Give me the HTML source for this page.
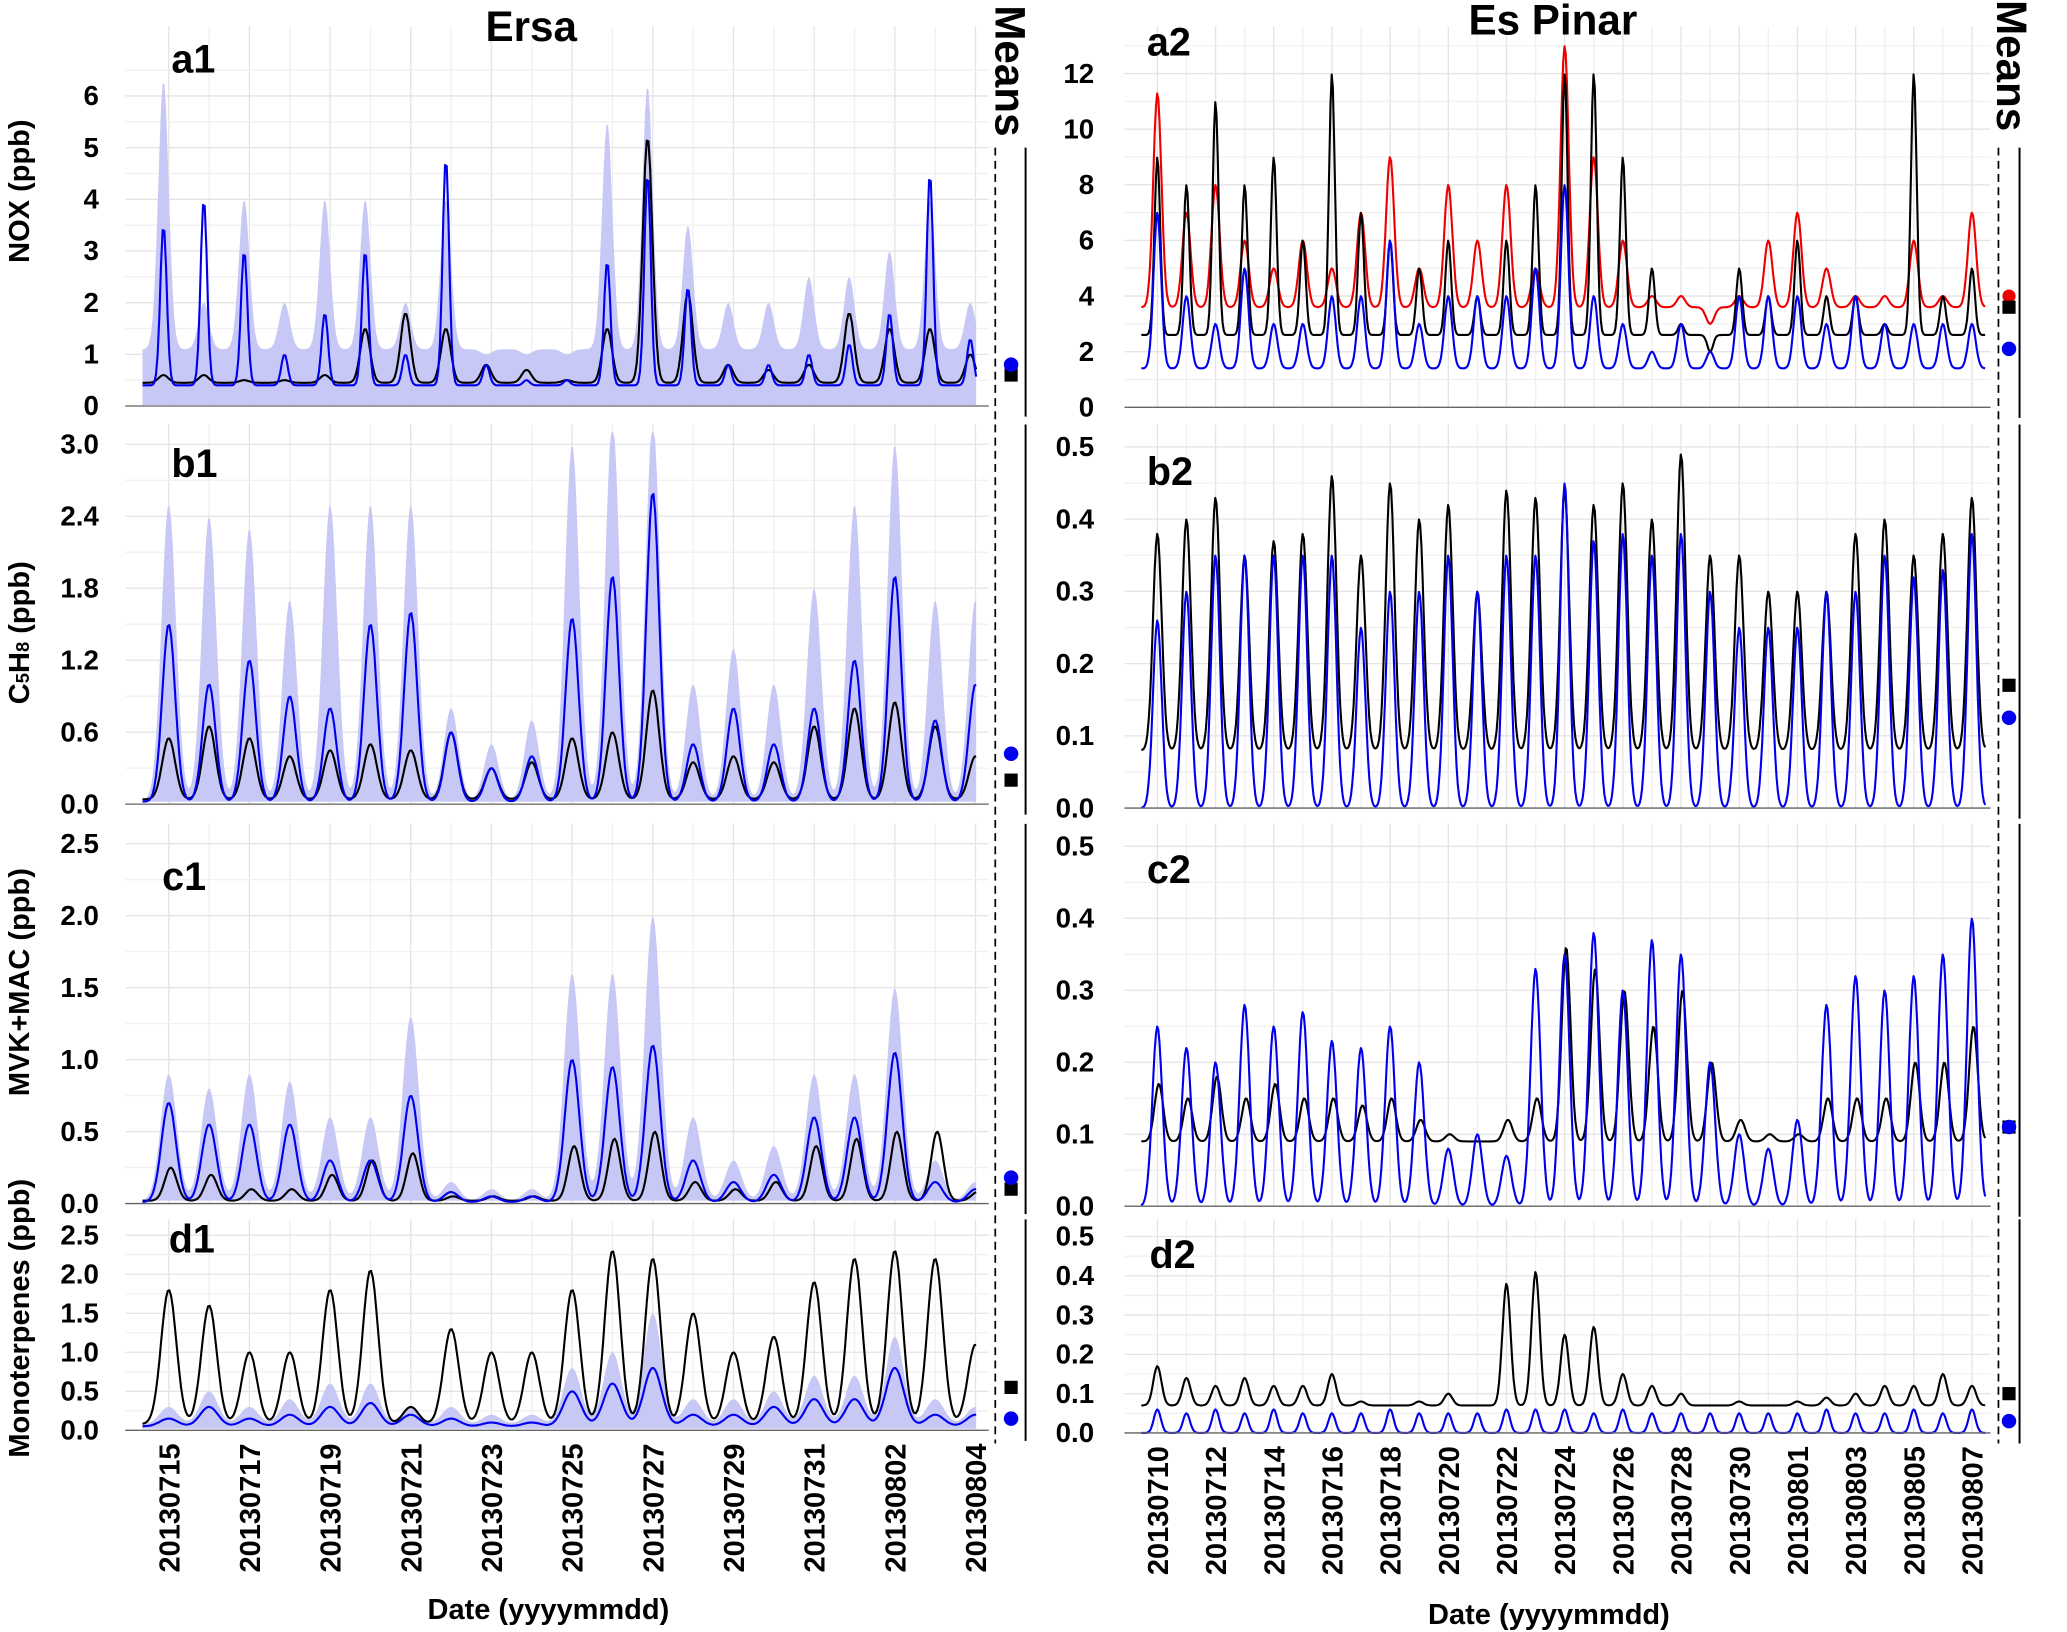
<!DOCTYPE html>
<html><head><meta charset="utf-8"><style>
html,body{margin:0;padding:0;background:#fff}
svg{display:block}
text{font-family:"Liberation Sans",sans-serif;font-weight:bold;fill:#000}
</style></head><body>
<svg id="chart" width="2067" height="1632" viewBox="0 0 1568 1238" preserveAspectRatio="none" xmlns="http://www.w3.org/2000/svg">
<g id="grid"></g>
<g id="marks"></g>
<g id="axes"></g>
<text x="403" y="31" font-size="32" text-anchor="middle">Ersa</text>
<text x="1178" y="26" font-size="32" text-anchor="middle">Es Pinar</text>
<text x="416" y="1228" font-size="22" text-anchor="middle">Date (yyyymmdd)</text>
<text x="1175" y="1232" font-size="22" text-anchor="middle">Date (yyyymmdd)</text>
<text transform="translate(755,4) rotate(90)" font-size="32">Means</text>
<text transform="translate(1515,0) rotate(90)" font-size="32">Means</text>
<text transform="translate(22,145) rotate(-90)" font-size="22" text-anchor="middle">NOX (ppb)</text>
<text transform="translate(22,480) rotate(-90)" font-size="22" text-anchor="middle">C<tspan font-size="14">5</tspan>H<tspan font-size="14">8</tspan> (ppb)</text>
<text transform="translate(22,745) rotate(-90)" font-size="22" text-anchor="middle">MVK+MAC (ppb)</text>
<text transform="translate(22,1000) rotate(-90)" font-size="22" text-anchor="middle">Monoterpenes (ppb)</text>
</svg>
<script>
// ---- data (daily peak values) ----
const leftTicks=["20130715","20130717","20130719","20130721","20130723","20130725","20130727","20130729","20130731","20130802","20130804"];
const rightTicks=["20130710","20130712","20130714","20130716","20130718","20130720","20130722","20130724","20130726","20130728","20130730","20130801","20130803","20130805","20130807"];
const a1Model=[3.5,4.0,3.0,1.0,1.8,3.0,1.0,4.8,0.8,0.5,0.5,2.8,4.5,2.3,0.8,0.8,1.0,1.2,1.8,4.5,1.3,0.6];
const a1Obs=[0.6,0.6,0.5,0.5,0.6,1.5,1.8,1.5,0.8,0.7,0.5,1.5,5.2,2.2,0.8,0.7,0.8,1.8,1.5,1.5,1.0,0.5];
const a1Band=[6.3,2.0,4.0,2.0,4.0,4.0,2.0,4.0,1.0,1.0,1.0,5.5,6.2,3.5,2.0,2.0,2.5,2.5,3.0,4.0,2.0,0.8];
const b1Model=[1.5,1.0,1.2,0.9,0.8,1.5,1.6,0.6,0.3,0.4,1.55,1.9,2.6,0.5,0.8,0.5,0.8,1.2,1.9,0.7,1.0];
const b1Obs=[0.55,0.65,0.55,0.4,0.45,0.5,0.45,0.6,0.3,0.35,0.55,0.6,0.95,0.35,0.4,0.35,0.65,0.8,0.85,0.65,0.4];
const b1Band=[2.5,2.4,2.3,1.7,2.5,2.5,2.5,0.8,0.5,0.7,3.0,3.2,3.2,1.0,1.3,1.0,1.8,2.5,3.0,1.7,1.7];
const c1Model=[0.7,0.55,0.55,0.55,0.3,0.3,0.75,0.08,0.05,0.05,1.0,0.95,1.1,0.3,0.15,0.2,0.6,0.6,1.05,0.15,0.1];
const c1Obs=[0.25,0.2,0.1,0.1,0.2,0.3,0.35,0.05,0.05,0.05,0.4,0.45,0.5,0.15,0.1,0.15,0.4,0.45,0.5,0.5,0.08];
const c1Band=[0.9,0.8,0.9,0.85,0.6,0.6,1.3,0.15,0.1,0.1,1.6,1.6,2.0,0.6,0.3,0.4,0.9,0.9,1.5,0.3,0.15];
const d1Obs=[1.8,1.6,1.0,1.0,1.8,2.05,0.3,1.3,1.0,1.0,1.8,2.3,2.2,1.5,1.0,1.2,1.9,2.2,2.3,2.2,1.1];
const d1Model=[0.15,0.3,0.15,0.2,0.3,0.35,0.2,0.15,0.1,0.1,0.5,0.6,0.8,0.2,0.2,0.3,0.4,0.4,0.8,0.2,0.2];
const d1Band=[0.3,0.5,0.3,0.4,0.6,0.6,0.3,0.3,0.2,0.2,0.8,1.0,1.5,0.4,0.4,0.5,0.7,0.7,1.2,0.4,0.3];
const a2Obs=[9,8,11,8,9,6,12,7,6,5,6,4,6,8,12,12,9,5,3,2,5,4,6,4,4,3,12,4,5,4];
const a2Red=[11.3,7,8,6,5,6,5,7,9,5,8,6,8,5,13,9,6,4,4,3,4,6,7,5,4,4,6,4,7,5.5];
const a2Model=[7,4,3,5,3,3,4,4,6,3,4,4,4,5,8,4,3,2,3,2,4,4,4,3,4,3,3,3,3,3.5];
const b2Obs=[0.38,0.4,0.43,0.35,0.37,0.38,0.46,0.35,0.45,0.4,0.42,0.3,0.44,0.43,0.44,0.42,0.45,0.4,0.49,0.35,0.35,0.3,0.3,0.3,0.38,0.4,0.35,0.38,0.43,0.28];
const b2Model=[0.26,0.3,0.35,0.35,0.35,0.35,0.35,0.25,0.3,0.3,0.35,0.3,0.35,0.35,0.45,0.37,0.38,0.35,0.38,0.3,0.25,0.25,0.25,0.3,0.3,0.35,0.32,0.33,0.38,0.2];
const c2Model=[0.25,0.22,0.2,0.28,0.25,0.27,0.23,0.22,0.25,0.2,0.08,0.1,0.07,0.33,0.35,0.38,0.3,0.37,0.35,0.2,0.1,0.08,0.12,0.28,0.32,0.3,0.32,0.35,0.4,0.3];
const c2Obs=[0.17,0.15,0.18,0.15,0.17,0.15,0.15,0.14,0.15,0.12,0.1,0.09,0.12,0.15,0.36,0.33,0.3,0.25,0.3,0.2,0.12,0.1,0.1,0.15,0.15,0.15,0.2,0.2,0.25,0.33];
const d2Obs=[0.17,0.14,0.12,0.14,0.12,0.12,0.15,0.08,0.07,0.08,0.1,0.07,0.38,0.41,0.25,0.27,0.15,0.12,0.1,0.07,0.08,0.07,0.08,0.09,0.1,0.12,0.12,0.15,0.12,0.13];
const d2Model=[0.06,0.05,0.06,0.05,0.06,0.05,0.05,0.05,0.06,0.05,0.05,0.05,0.06,0.06,0.06,0.05,0.06,0.05,0.05,0.05,0.05,0.05,0.05,0.06,0.05,0.05,0.06,0.05,0.06,0.05];
const meansLeft=[[0.6,0.8],[0.2,0.42],[0.1,0.18],[0.55,0.15]]; // [obs, model]
const meansRight=[[3.6,2.1,4.0],[0.17,0.125],[0.11,0.11],[0.1,0.03]];

const NS="http://www.w3.org/2000/svg";
const G=document.getElementById('grid'),M=document.getElementById('marks'),A=document.getElementById('axes');
function mk(p,tag,at){const e=document.createElementNS(NS,tag);for(const k in at)e.setAttribute(k,at[k]);p.appendChild(e);return e;}
const L={x0:97.4,dx:30.6,xa:95,xb:750,t0:0.35,t1:21.05};
const R={x0:855.9,dx:22.07,xa:853,xb:1510,t0:0.45,t1:29.45};
const rowsL=[{y0:308,top:20,max:6.6,ppu:39.2},{y0:610,top:322,max:3.1,ppu:91},{y0:913,top:625,max:2.6,ppu:109.2},{y0:1085,top:925,max:2.6,ppu:59.2}];
const rowsR=[{y0:309,top:20,max:13,ppu:21.1},{y0:613,top:322,max:0.51,ppu:548},{y0:915,top:625,max:0.51,ppu:546},{y0:1087,top:925,max:0.51,ppu:298}];
function sx(P,t){return P.x0+P.dx*t;}
function sy(r,v){return r.y0-v*r.ppu;}
function series(P,r,peaks,start,phase,sig,base){
  const pts=[];
  for(let t=P.t0;t<=P.t1+1e-9;t+=1/24){
    let v=base;
    for(let d=0;d<peaks.length;d++){const c=start+d+phase;const dt=t-c;if(Math.abs(dt)<1)v+=(peaks[d]-base)*Math.exp(-(dt*dt)/(2*sig*sig));}
    pts.push([sx(P,t),sy(r,Math.min(v,r.max))]);
  }
  return pts;
}
function line(pts,color,name,w){
  const e=mk(M,'polyline',{points:pts.map(p=>p[0].toFixed(1)+','+p[1].toFixed(1)).join(' '),fill:'none',stroke:color,'stroke-width':w||1.6,'stroke-linejoin':'round'});
  
  
}
function band(P,r,peaks,start,phase,sig,base,name){
  const up=series(P,r,peaks,start,phase,sig,base);
  const pts=up.concat([[up[up.length-1][0],sy(r,0.02)],[up[0][0],sy(r,0.02)]]);
  const e=mk(M,'polygon',{points:pts.map(p=>p[0].toFixed(1)+','+p[1].toFixed(1)).join(' '),fill:'#c8c8f6',stroke:'none'});
  
  
}
function panelGrid(P,r,ticks,nTicks,step,fmt,labX,name){
  for(let k=0;k<nTicks;k++){
    const t=1+2*k;
    for(const tt of [t,t+1]){const x=sx(P,tt);if(x<P.xa||x>P.xb)continue;
      const g=mk(G,'line',{x1:x,x2:x,y1:r.top,y2:r.y0,stroke:tt===t?'#e4e4e4':'#f0f0f0','stroke-width':1});
      }
  }
  for(let v=0;v<=r.max+1e-9;v+=step/2){
    const y=sy(r,v);const major=Math.abs(Math.round(v/step)*step-v)<1e-9;
    const g=mk(G,'line',{x1:P.xa,x2:P.xb,y1:y,y2:y,stroke:major?'#e4e4e4':'#f0f0f0','stroke-width':1});
    
    if(major){const tx=mk(A,'text',{x:labX,y:y+7,'font-size':21,'text-anchor':'end'});tx.textContent=fmt(v);
      }
  }
  const ax=mk(A,'line',{x1:P.xa,x2:P.xb,y1:r.y0,y2:r.y0,stroke:'#666','stroke-width':1});
  
}
const fi=v=>String(Math.round(v)),f1=v=>v.toFixed(1);
panelGrid(L,rowsL[0],leftTicks,11,1,fi,75,'a1');
panelGrid(L,rowsL[1],leftTicks,11,0.6,f1,75,'b1');
panelGrid(L,rowsL[2],leftTicks,11,0.5,f1,75,'c1');
panelGrid(L,rowsL[3],leftTicks,11,0.5,f1,75,'d1');
panelGrid(R,rowsR[0],rightTicks,15,2,fi,830,'a2');
panelGrid(R,rowsR[1],rightTicks,15,0.1,f1,830,'b2');
panelGrid(R,rowsR[2],rightTicks,15,0.1,f1,830,'c2');
panelGrid(R,rowsR[3],rightTicks,15,0.1,f1,830,'d2');
leftTicks.forEach((s,k)=>{const x=sx(L,1+2*k);const t=mk(A,'text',{transform:`translate(${x+8},1095) rotate(-90)`,'font-size':22,'text-anchor':'end'});t.textContent=s;
  });
rightTicks.forEach((s,k)=>{const x=sx(R,1+2*k);const t=mk(A,'text',{transform:`translate(${x+8},1097) rotate(-90)`,'font-size':22,'text-anchor':'end'});t.textContent=s;
  });
// series left
band(L,rowsL[0],a1Band,0,0.87,0.13,1.1,'a1-model-range');
line(series(L,rowsL[0],a1Obs,0,0.87,0.12,0.45),'#000','a1-observed');
line(series(L,rowsL[0],a1Model,0,0.87,0.08,0.4),'#0000ee','a1-model');
band(L,rowsL[1],b1Band,1,0,0.18,0.03,'b1-model-range');
line(series(L,rowsL[1],b1Obs,1,0,0.16,0.04),'#000','b1-observed');
line(series(L,rowsL[1],b1Model,1,0,0.16,0.02),'#0000ee','b1-model');
band(L,rowsL[2],c1Band,1,0,0.2,0.02,'c1-model-range');
line(series(L,rowsL[2],c1Obs,1,0.05,0.15,0.02),'#000','c1-observed');
line(series(L,rowsL[2],c1Model,1,0,0.18,0.01),'#0000ee','c1-model');
band(L,rowsL[3],d1Band,1,0,0.22,0.08,'d1-model-range');
line(series(L,rowsL[3],d1Obs,1,0,0.19,0.08),'#000','d1-observed');
line(series(L,rowsL[3],d1Model,1,0,0.22,0.05),'#0000ee','d1-model');
// series right
line(series(R,rowsR[0],a2Red,1,0,0.14,3.6),'#ee0000','a2-model-red');
line(series(R,rowsR[0],a2Obs,1,0,0.1,2.6),'#000','a2-observed');
line(series(R,rowsR[0],a2Model,1,0,0.13,1.4),'#0000ee','a2-model');
line(series(R,rowsR[1],b2Obs,1,0,0.15,0.08),'#000','b2-observed');
line(series(R,rowsR[1],b2Model,1,0,0.15,0.0),'#0000ee','b2-model');
line(series(R,rowsR[2],c2Obs,1,0.05,0.15,0.09),'#000','c2-observed');
line(series(R,rowsR[2],c2Model,1,0,0.17,0.0),'#0000ee','c2-model');
line(series(R,rowsR[3],d2Obs,1,0,0.14,0.07),'#000','d2-observed');
line(series(R,rowsR[3],d2Model,1,0,0.12,0.0),'#0000ee','d2-model');
function meansCol(xd,xs,mx,rows,vals,side){
  const d=mk(A,'line',{x1:xd,x2:xd,y1:112,y2:1095,stroke:'#000','stroke-width':1.3,'stroke-dasharray':'6,4'});
  
  rows.forEach((r,i)=>{
    const s=mk(A,'line',{x1:xs,x2:xs,y1:i===0?112:r.top,y2:r.y0+8,stroke:'#000','stroke-width':1.5});
    
    const v=vals[i];
    if(v[2]!==undefined){const c=mk(A,'circle',{cx:mx,cy:sy(r,v[2]),r:5,fill:'#ee0000'});}
    const q=mk(A,'rect',{x:mx-5,y:sy(r,v[0])-5,width:10,height:10,fill:'#000'});
    
    const c=mk(A,'circle',{cx:mx,cy:sy(r,v[1]),r:5.5,fill:'#0000ee'});
    
  });
}
meansCol(755,778,767,rowsL,meansLeft,'left');
meansCol(1516,1532,1524,rowsR,meansRight,'right');
[["a1",130,55],["b1",130,362],["c1",123,675],["d1",128,950],["a2",870,42],["b2",870,368],["c2",870,670],["d2",872,962]].forEach(p=>{
  const t=mk(A,'text',{x:p[1],y:p[2],'font-size':30});t.textContent=p[0];
  });
</script>
</body></html>
